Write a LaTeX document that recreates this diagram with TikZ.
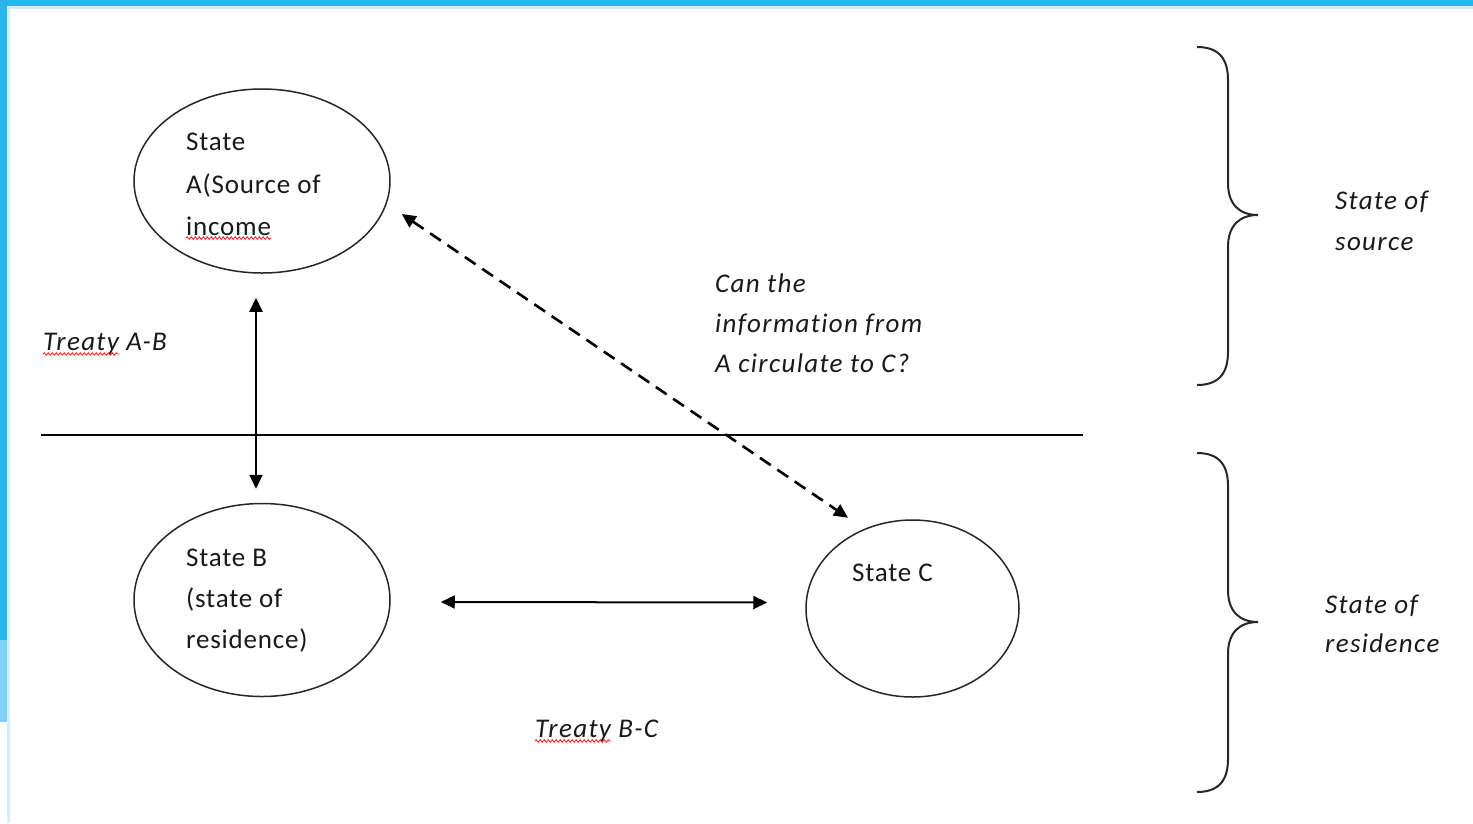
\documentclass[tikz,border=0pt]{standalone}
\usepackage{fontspec}
\setmainfont{Carlito}[LetterSpace=3,Ligatures={NoCommon},ItalicFeatures={LetterSpace=5,Ligatures={NoCommon}}]
\usetikzlibrary{shapes.geometric,arrows.meta,calc,decorations.pathmorphing}
\definecolor{barblue}{HTML}{2AB4EC}
\definecolor{lightbar}{HTML}{80D0F8}
\definecolor{paleblue}{HTML}{D2EEFC}
\begin{document}
\begin{tikzpicture}[x=1pt,y=-1pt,
  state/.style={draw=black!85,line width=1.5pt,ellipse,inner sep=0pt},
  txt/.style={anchor=base west,inner sep=0pt,font=\fontsize{27}{42}\selectfont,text=black!90},
  itxt/.style={txt,font=\fontsize{27}{42}\selectfont\itshape},
  dbl/.style={{Triangle[length=14pt,width=13pt]}-{Triangle[length=14pt,width=13pt]},line width=2pt},
  wavy/.style={draw=red!85,line width=0.9pt,decorate,decoration={snake,amplitude=1.2pt,segment length=4pt}},
  bracestyle/.style={draw=black!85,line width=2pt}]
\useasboundingbox (0,0) rectangle (1473,823);
\fill[white] (0,0) rectangle (1473,823);
% frame bars
\fill[paleblue] (0,0) rectangle (1473,9);
\fill[paleblue] (0,0) rectangle (10,823);
\fill[barblue] (0,0) rectangle (1473,6);
\fill[barblue] (0,0) rectangle (7,640);
\fill[lightbar] (0,640) rectangle (7,722);
\fill[white] (0,722) rectangle (7,823);

% states
\node[state,minimum width=256pt,minimum height=184pt] (A) at (262,181) {};
\node[state,minimum width=256pt,minimum height=193pt] (B) at (262,600) {};
\node[state,minimum width=213pt,minimum height=177pt] (C) at (912.5,608.5) {};

\node[txt] (a1) at (186,150) {State};
\node[txt] (a2) at (186,193) {A(Source of};
\node[txt] (a3) at (186,235) {income};
\draw[wavy] ($(a3.base west)+(0,3)$) -- ($(a3.base east)+(0,3)$);

\node[txt] (b1) at (186,566) {State B};
\node[txt] (b2) at (186,607) {(state of};
\node[txt] (b3) at (186,648) {residence)};

\node[txt] (c1) at (852,581) {State C};

% dividing line
\coordinate (L1) at (41,435);
\coordinate (L2) at (1083,435);
\draw[line width=1.6pt] (L1) -- (L2);

% connectors
\draw[dbl] ($(A.south)+(-6,24)$) -- ($(B.north)+(-6,-14)$);
\draw[dbl] ($(B.east)+(50,2)$) -- ($(C.west)+(-38,-6)$);
\draw[dbl,line width=2.6pt,dash pattern=on 13pt off 8pt] ($(A.east)+(11,33)$) -- ($(C.north)+(-64.5,-1.5)$);

% labels
\node[itxt] (tab1) at (43,350) {Treaty};
\node[itxt] (tab2) at ($(tab1.base east)+(7,0)$) {A-B};
\draw[wavy] ($(tab1.base west)+(0,4)$) -- ($(tab1.base east)+(0,4)$);

\node[itxt] (tbc1) at (535,737) {Treaty};
\node[itxt] (tbc2) at ($(tbc1.base east)+(7,0)$) {B-C};
\draw[wavy] ($(tbc1.base west)+(0,4)$) -- ($(tbc1.base east)+(0,4)$);

\node[itxt] (q1) at (715,292) {Can the};
\node[itxt] (q2) at (715,332) {information from};
\node[itxt] (q3) at (715,372) {A circulate to C?};

% braces
\draw[bracestyle] (1197,47) .. controls (1220,47) and (1228,60) .. (1228,80) -- (1228,183)
  .. controls (1228,205) and (1240,215) .. (1258,215)
  .. controls (1240,215) and (1228,225) .. (1228,247) -- (1228,352)
  .. controls (1228,372) and (1220,385) .. (1197,385);
\draw[bracestyle] (1197,453) .. controls (1220,453) and (1228,466) .. (1228,486) -- (1228,590)
  .. controls (1228,612) and (1240,622) .. (1258,622)
  .. controls (1240,622) and (1228,632) .. (1228,654) -- (1228,759)
  .. controls (1228,779) and (1220,792) .. (1197,792);

\node[itxt] (s1) at (1335,209) {State of};
\node[itxt] (s2) at (1335,250) {source};
\node[itxt] (r1) at (1325,613) {State of};
\node[itxt] (r2) at (1325,652) {residence};
\end{tikzpicture}
\end{document}
